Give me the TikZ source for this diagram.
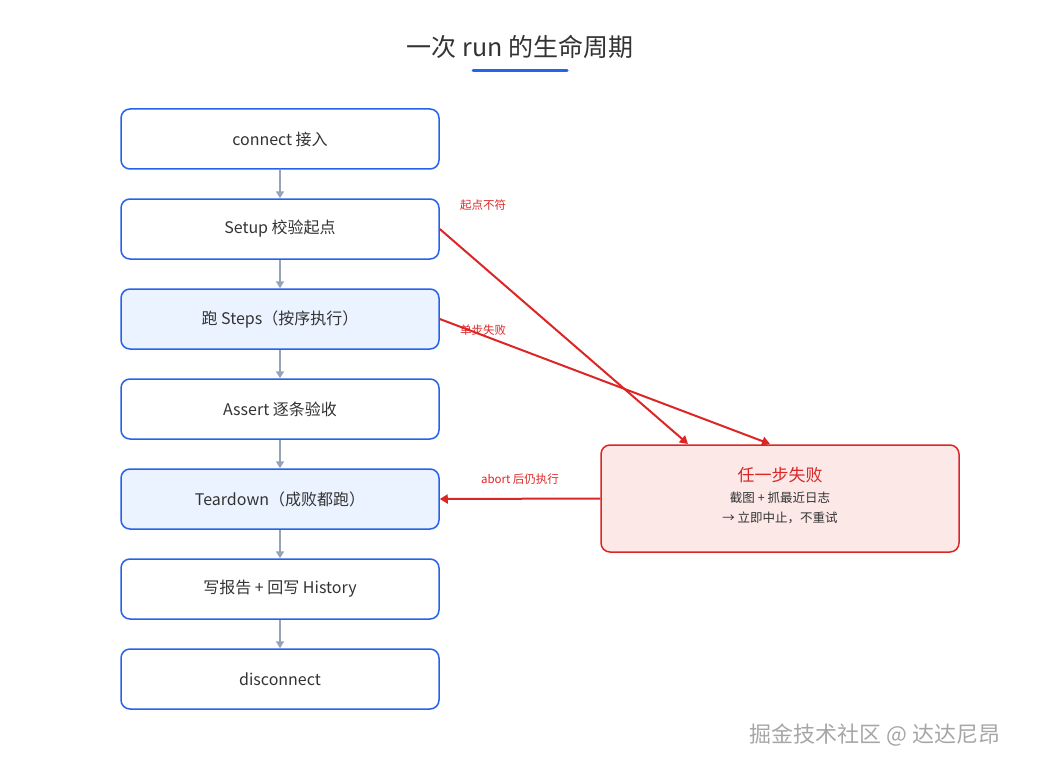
\documentclass[tikz,border=0pt]{standalone}
\usepackage{fontspec}
\setmainfont{Noto Sans CJK SC}
\usetikzlibrary{arrows.meta}
\definecolor{bblue}{HTML}{2563EB}
\definecolor{lblue}{HTML}{EAF3FF}
\definecolor{rred}{HTML}{DC2626}
\definecolor{lred}{HTML}{FDE8E8}
\definecolor{gar}{HTML}{94A3B8}
\definecolor{txt}{HTML}{333333}
\begin{document}
\begin{tikzpicture}[x=1pt,y=-1pt,
  box/.style={draw=bblue,line width=1.5pt,rounded corners=9pt,minimum width=318pt,minimum height=60pt,fill=white,text=txt,font=\fontsize{16}{19}\selectfont},
  boxl/.style={box,fill=lblue},
  flow/.style={draw=gar,line width=2pt,-{Triangle[length=7pt,width=8pt]}},
  fail/.style={draw=rred,line width=2pt,-{Triangle[length=8pt,width=9pt]}},
  lab/.style={text=rred,font=\fontsize{11.5}{13}\selectfont}]
\useasboundingbox (0,0) rectangle (1040,770);
\node[text=txt,font=\fontsize{25}{28}\selectfont] (title) at (520,47) {一次 run 的生命周期};
\draw[bblue,line width=3pt,line cap=round] (473,71) -- (567,71);
\node[box]  (a) at (280,139) {connect 接入};
\node[box]  (b) at (280,229) {Setup 校验起点};
\node[boxl] (c) at (280,319) {跑 Steps（按序执行）};
\node[box]  (d) at (280,409) {Assert 逐条验收};
\node[boxl] (e) at (280,499) {Teardown（成败都跑）};
\node[box]  (f) at (280,589) {写报告 + 回写 History};
\node[box]  (g) at (280,679) {disconnect};
\foreach \u/\v in {a/b,b/c,c/d,d/e,e/f,f/g} \draw[flow] (\u.south) -- (\v.north);
\node[draw=rred,line width=1.5pt,rounded corners=9pt,fill=lred,minimum width=358pt,minimum height=107pt] (x) at (780,498.5) {};
\node[text=rred,font=\fontsize{17}{20}\selectfont] (xt) at (780,475) {任一步失败};
\node[text=txt,font=\fontsize{12.5}{20}\selectfont,align=center] (xs) at (780,508) {截图 + 抓最近日志\\→ 立即中止，不重试};
\coordinate (x1) at (688,444);
\coordinate (x2) at (770,444);
\draw[fail] (b.east) -- (x1);
\draw[fail] (c.east) -- (x2);
\draw[fail] (x.west) -- (e.east);
\node[lab] (l1) at (483,205) {起点不符};
\node[lab] (l2) at (483,330) {单步失败};
\node[lab] (l3) at (520,479) {abort 后仍执行};
\node[text=gray!70,font=\fontsize{22}{26}\selectfont] (wm) at (875,735) {掘金技术社区 @ 达达尼昂};
\end{tikzpicture}
\end{document}
